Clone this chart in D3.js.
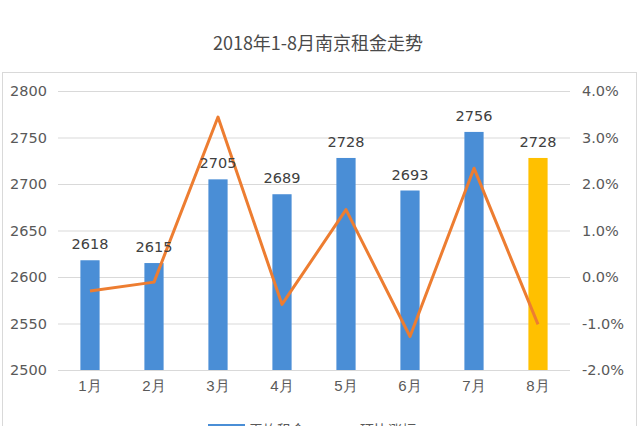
<!DOCTYPE html>
<html><head><meta charset="utf-8">
<script src="https://cdn.jsdelivr.net/npm/d3@7/dist/d3.min.js"></script>
<style>
html,body{margin:0;padding:0;background:#fff;}
svg{display:block;font-family:"Microsoft YaHei","Noto Sans CJK SC","Noto Sans",sans-serif;}
</style></head>
<body>
<svg id="c" width="640" height="426"></svg>
<script>
const months = ["1月","2月","3月","4月","5月","6月","7月","8月"];
const rent = [2618, 2615, 2705, 2689, 2728, 2693, 2756, 2728];
const change = [-0.3, -0.11, 3.44, -0.59, 1.45, -1.28, 2.34, -1.02];
const leftTicks = [2500, 2550, 2600, 2650, 2700, 2750, 2800];
const rightTicks = [-2, -1, 0, 1, 2, 3, 4];
const title = "2018年1-8月南京租金走势";
const legendNames = ["平均租金", "环比涨幅"];

const numFont = "DejaVu Sans, sans-serif";
const svg = d3.select("#c");
const L = 58, R = 570, T = 91, B = 370;

svg.append("rect").attr("x",2.5).attr("y",72.5).attr("width",634).attr("height",380)
  .attr("fill","none").attr("stroke","#d9d9d9");

svg.append("text").attr("x",318).attr("y",50).attr("text-anchor","middle")
  .attr("font-size",18).attr("fill","#4a4a4a").text(title);

const x = d3.scaleBand().domain(months).range([L,R]).paddingInner(0.7).paddingOuter(0.35);
const y = d3.scaleLinear().domain([2500,2800]).range([B,T]);
const y2 = d3.scaleLinear().domain([-2,4]).range([B,T]);

// gridlines
svg.append("g").selectAll("line").data(leftTicks).join("line")
  .attr("x1",L).attr("x2",R).attr("y1",d=>y(d)+0.5).attr("y2",d=>y(d)+0.5)
  .attr("stroke","#d9d9d9").attr("stroke-width",1);

// left axis
const ga = svg.append("g").attr("transform",`translate(${L},0)`)
  .call(d3.axisLeft(y).tickValues(leftTicks).tickSize(0).tickPadding(11).tickFormat(d3.format("d")));
ga.select(".domain").remove();
ga.selectAll("text").attr("font-size",14.5).attr("fill","#595959").attr("font-family",numFont);

// right axis
const gr = svg.append("g").attr("transform",`translate(${R},0)`)
  .call(d3.axisRight(y2).tickValues(rightTicks).tickSize(0).tickPadding(12).tickFormat(d=>d.toFixed(1)+"%"));
gr.select(".domain").remove();
gr.selectAll("text").attr("font-size",14.5).attr("fill","#595959").attr("font-family",numFont);

// bottom axis
const gb = svg.append("g").attr("transform",`translate(0,${B})`)
  .call(d3.axisBottom(x).tickSize(0).tickPadding(10));
gb.select(".domain").remove();
gb.selectAll("text").attr("font-size",15).attr("fill","#595959");

// bars
svg.append("g").selectAll("rect").data(rent).join("rect")
  .attr("x",(d,i)=>x(months[i])).attr("width",x.bandwidth())
  .attr("y",d=>y(d)).attr("height",d=>B-y(d))
  .attr("fill",(d,i)=>i===months.length-1?"#FFC000":"#4A8ED6");

// line
const line = d3.line().x((d,i)=>x(months[i])+x.bandwidth()/2).y(d=>y2(d));
svg.append("path").datum(change).attr("d",line).attr("fill","none")
  .attr("stroke","#ED7D31").attr("stroke-width",3).attr("stroke-linejoin","round");

// data labels
svg.append("g").selectAll("text").data(rent).join("text")
  .attr("x",(d,i)=>x(months[i])+x.bandwidth()/2).attr("y",d=>y(d)-11)
  .attr("text-anchor","middle").attr("font-size",14.5).attr("fill","#404040")
  .attr("font-family",numFont).text(d=>d);

// legend (cut off at bottom edge, as in the reference)
const lg = svg.append("g");
lg.append("rect").attr("x",208).attr("y",424).attr("width",37).attr("height",8).attr("fill","#4A8ED6");
lg.append("text").attr("x",249).attr("y",435).attr("font-size",14).attr("fill","#595959").text(legendNames[0]);
lg.append("line").attr("x1",318).attr("x2",354).attr("y1",429).attr("y2",429).attr("stroke","#ED7D31").attr("stroke-width",3);
lg.append("text").attr("x",360).attr("y",435).attr("font-size",14).attr("fill","#595959").text(legendNames[1]);
</script>
</body></html>
